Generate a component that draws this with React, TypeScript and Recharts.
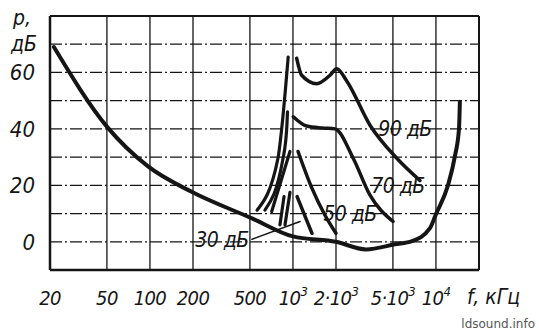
import React from 'react';
import {
  LineChart,
  Line,
  XAxis,
  YAxis,
  CartesianGrid,
  ReferenceLine,
  ReferenceDot,
} from 'recharts';

const FONT = "'Liberation Sans Narrow', 'DejaVu Sans Condensed', 'DejaVu Sans', sans-serif";
const INK = '#151515';

// axes
const freqTicks = [20, 50, 100, 200, 500, 1000, 2000, 5000, 10000, 20000];
const freqTickText: (string[] | null)[] = [
  ['20'], ['50'], ['100'], ['200'], ['500'], ['10', '3'], ['2·10', '3'], ['5·10', '3'], ['10', '4'], null,
];
const levelTicks = [-10, 0, 10, 20, 30, 40, 50, 60, 70, 80];
const levelLabels = [0, 20, 40, 60];

// threshold of hearing in quiet
const quietF = [21.3, 50, 97, 194, 517, 1000, 2000, 3240, 5170, 6800, 9080, 10000, 12140, 13590, 14490, 14700];
const quietDb = [69, 40.8, 26.7, 17.8, 8.3, 1.9, 0, -2.7, -0.9, 0.2, 4.8, 9.8, 20, 30.5, 40, 49.6];

// masker 90 dB
const m90LowF = [561, 785, 834, 926];
const m90LowDb = [11.2, 29.5, 40, 65.4];
const m90HighF = [1062, 1151, 1466, 1816, 2022, 2376, 3458, 5344, 7730];
const m90HighDb = [65, 59, 56, 59, 61.3, 57, 41.3, 29.5, 21.7];

// masker 70 dB
const m70LowF = [637, 852, 904, 916];
const m70LowDb = [11.2, 29.5, 40, 46];
const m70HighF = [1005, 1248, 1600, 1968, 2642, 3458, 5010];
const m70HighDb = [44.3, 41, 40.3, 40, 29.5, 16.5, 7.2];

// masker 50 dB
const m50LowF = [710, 953];
const m50LowDb = [10.7, 32];
const m50HighF = [1085, 1359, 1675, 2000];
const m50HighDb = [32, 18.9, 9.4, 3];

// masker 30 dB
const m30LowF = [880, 953];
const m30LowDb = [6, 17.5];
const m30ExtraF = [811, 866];
const m30ExtraDb = [6, 16];
const m30HighF = [1069, 1194, 1359];
const m30HighDb = [16, 10, 3];

// leader from the "30 дБ" tag
const leaderF = [517, 1121];
const leaderDb = [0.9, 7.2];

// curve tags
const tagText = ['90 дБ', '70 дБ', '50 дБ', '30 дБ'];
const tagF = [6080, 5430, 2506, 319];
const tagDb = [40, 19.6, 10, 0.5];

const pts = (f: number[], db: number[]) => f.map((v, i) => ({ f: v, db: db[i] }));

const curves = [
  { id: 'quiet', data: pts(quietF, quietDb), w: 4 },
  { id: 'm90low', data: pts(m90LowF, m90LowDb), w: 3.2 },
  { id: 'm90high', data: pts(m90HighF, m90HighDb), w: 3.5 },
  { id: 'm70low', data: pts(m70LowF, m70LowDb), w: 3.2 },
  { id: 'm70high', data: pts(m70HighF, m70HighDb), w: 3.5 },
  { id: 'm50low', data: pts(m50LowF, m50LowDb), w: 3.2 },
  { id: 'm50high', data: pts(m50HighF, m50HighDb), w: 3.5 },
  { id: 'm30low', data: pts(m30LowF, m30LowDb), w: 3.2 },
  { id: 'm30extra', data: pts(m30ExtraF, m30ExtraDb), w: 3.2 },
  { id: 'm30high', data: pts(m30HighF, m30HighDb), w: 3.5 },
  { id: 'leader', data: pts(leaderF, leaderDb), w: 1.6 },
];

const textStyle = { fill: INK, fontFamily: FONT, fontStyle: 'italic' as const, fontStretch: 'condensed' };

function FreqTick({ x, y, payload }: any) {
  const lab = freqTickText[freqTicks.indexOf(payload.value)];
  if (!lab) return null;
  return (
    <text x={x} y={y + 27} textAnchor="middle" fontSize={20} letterSpacing={-0.6} {...textStyle}>
      {lab[0]}
      {lab[1] && (
        <tspan dy={-9} fontSize={13}>
          {lab[1]}
        </tspan>
      )}
    </text>
  );
}

function LevelTick({ x, y, payload }: any) {
  if (!levelLabels.includes(payload.value)) return null;
  return (
    <text x={x - 7} y={y} dy={8} textAnchor="end" fontSize={22} {...textStyle}>
      {payload.value}
    </text>
  );
}

const tagContent = (text: string) => (props: any) => {
  const vb = props.viewBox || {};
  const cx = vb.x + (vb.width || 0) / 2;
  const cy = vb.y + (vb.height || 0) / 2;
  return (
    <text x={cx} y={cy} dy={7} textAnchor="middle" fontSize={21} letterSpacing={-0.5} {...textStyle}>
      {text}
    </text>
  );
};

export default function App() {
  return (
    <div style={{ position: 'absolute', left: 0, top: 0, width: 539, height: 333, background: '#fff' }}>
      <LineChart width={539} height={333} margin={{ top: 16, right: 60, left: 0, bottom: 0 }}>
        <CartesianGrid horizontal={false} stroke={INK} strokeWidth={1.3} />
        <CartesianGrid vertical={false} stroke={INK} strokeWidth={1.3} strokeDasharray="12 3 2 3" />
        <XAxis
          dataKey="f"
          type="number"
          scale="log"
          domain={[20, 20000]}
          ticks={freqTicks}
          interval={0}
          allowDataOverflow
          height={63}
          tick={<FreqTick />}
          tickLine={false}
          axisLine={{ stroke: INK, strokeWidth: 2.5 }}
          label={{
            content: (p: any) => (
              <text x={p.viewBox.x + p.viewBox.width - 12} y={p.viewBox.y + 34} fontSize={21} {...textStyle}>
                f, кГц
              </text>
            ),
          }}
        />
        <YAxis
          type="number"
          domain={[-10, 80]}
          ticks={levelTicks}
          interval={0}
          allowDataOverflow
          width={50}
          tick={<LevelTick />}
          tickLine={false}
          axisLine={{ stroke: INK, strokeWidth: 2.5 }}
          label={{
            content: (p: any) => (
              <g>
                <text x={p.viewBox.x + 13} y={p.viewBox.y + 9} fontSize={21} {...textStyle}>
                  р,
                </text>
                <text x={p.viewBox.x + 11} y={p.viewBox.y + 35} fontSize={21} {...textStyle}>
                  дБ
                </text>
              </g>
            ),
          }}
        />
        <ReferenceLine y={80} stroke={INK} strokeWidth={2} />
        <ReferenceLine x={20000} stroke={INK} strokeWidth={2} />
        {curves.map((c) => (
          <Line
            key={c.id}
            data={c.data}
            dataKey="db"
            type={c.id === 'leader' ? 'linear' : 'monotone'}
            stroke={INK}
            strokeWidth={c.w}
            strokeLinecap="round"
            dot={false}
            activeDot={false}
            isAnimationActive={false}
          />
        ))}
        {tagText.map((t, i) => (
          <ReferenceDot
            key={t}
            x={tagF[i]}
            y={tagDb[i]}
            r={0}
            fill="none"
            stroke="none"
            label={{ content: tagContent(t) }}
          />
        ))}
      </LineChart>
      <div
        style={{
          position: 'absolute',
          right: 4,
          bottom: 2,
          fontFamily: "'DejaVu Sans', sans-serif",
          fontSize: 12,
          color: '#555',
        }}
      >
        ldsound.info
      </div>
    </div>
  );
}
